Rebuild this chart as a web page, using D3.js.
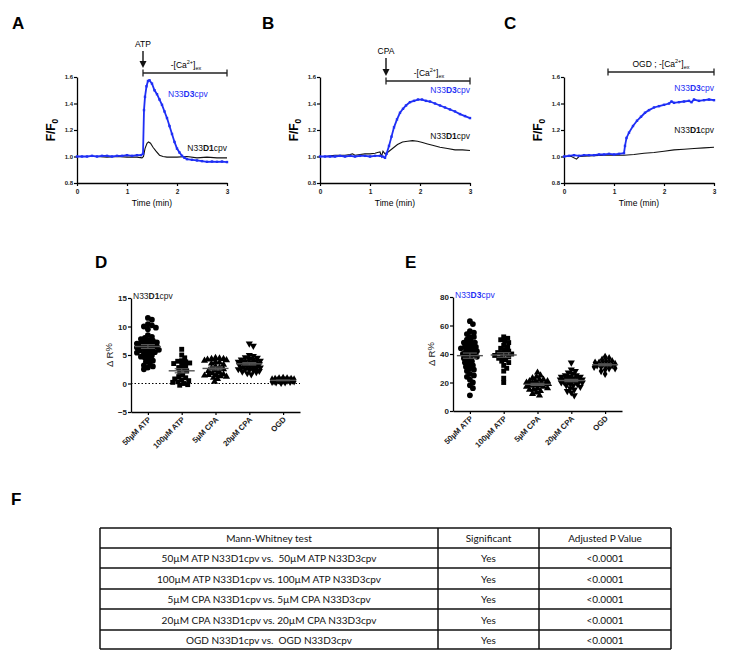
<!DOCTYPE html>
<html><head><meta charset="utf-8">
<script src="https://cdn.jsdelivr.net/npm/d3@7"></script>
<style>body{margin:0;background:#fff} svg{display:block;font-family:"Liberation Sans",Arial,sans-serif}</style>
</head><body>
<svg id="fig" width="750" height="650"></svg>
<script>
// ---------------- DATA ----------------
const timeTicks = [0, 1, 2, 3];
const ratioTicks = [0.8, 1.0, 1.2, 1.4, 1.6];

// Panel A (ATP)  [time (min), F/F0]
const atpD3 = [[0,1.0],[0.1,1.0],[0.2,1.0],[0.3,1.005],[0.4,1.0],[0.5,1.005],[0.6,1.005],[0.7,1.0],[0.8,1.005],[0.9,1.005],[1.0,1.01],[1.1,1.005],[1.2,1.01],[1.28,1.01],[1.32,1.02],[1.34,1.35],[1.36,1.45],[1.39,1.53],[1.42,1.57],[1.45,1.575],[1.5,1.55],[1.55,1.5],[1.6,1.47],[1.65,1.43],[1.7,1.39],[1.75,1.34],[1.8,1.29],[1.85,1.23],[1.9,1.17],[1.95,1.11],[2.0,1.06],[2.05,1.03],[2.1,1.005],[2.15,0.99],[2.2,0.98],[2.3,0.975],[2.4,0.97],[2.5,0.965],[2.6,0.96],[2.7,0.962],[2.8,0.96],[2.9,0.962],[3.0,0.958]];
const atpD1 = [[0,1.0],[0.2,1.0],[0.4,1.0],[0.6,0.995],[0.8,1.0],[1.0,0.995],[1.2,0.995],[1.3,0.99],[1.33,1.0],[1.36,1.06],[1.4,1.1],[1.43,1.11],[1.47,1.1],[1.52,1.07],[1.58,1.04],[1.65,1.01],[1.72,1.0],[1.8,0.995],[2.0,0.995],[2.2,1.0],[2.4,0.99],[2.6,0.995],[2.8,0.99],[3.0,0.99]];

// Panel B (CPA)
const cpaD3 = [[0,1.0],[0.1,1.0],[0.2,1.0],[0.3,1.0],[0.4,1.005],[0.5,1.0],[0.6,1.005],[0.7,1.0],[0.8,1.005],[0.9,1.005],[1.0,1.0],[1.1,1.005],[1.2,1.005],[1.25,1.0],[1.3,0.99],[1.33,1.02],[1.38,1.08],[1.43,1.15],[1.48,1.22],[1.54,1.28],[1.6,1.33],[1.66,1.36],[1.72,1.385],[1.8,1.41],[1.88,1.42],[1.96,1.43],[2.04,1.43],[2.12,1.42],[2.2,1.415],[2.3,1.4],[2.4,1.385],[2.5,1.37],[2.6,1.355],[2.7,1.34],[2.8,1.32],[2.9,1.305],[3.0,1.29]];
const cpaD1 = [[0,1.0],[0.1,1.0],[0.2,1.005],[0.3,1.01],[0.4,1.01],[0.5,1.01],[0.6,1.015],[0.65,1.02],[0.7,1.01],[0.8,1.015],[0.9,1.02],[1.0,1.02],[1.1,1.025],[1.15,1.03],[1.2,1.035],[1.23,1.0],[1.26,1.04],[1.3,1.02],[1.35,1.03],[1.45,1.06],[1.55,1.09],[1.65,1.11],[1.75,1.115],[1.85,1.12],[1.95,1.115],[2.05,1.105],[2.15,1.095],[2.25,1.085],[2.4,1.07],[2.55,1.06],[2.7,1.05],[2.85,1.05],[3.0,1.045]];

// Panel C (OGD)
const ogdD3 = [[0,1.0],[0.1,1.005],[0.2,1.01],[0.3,1.005],[0.4,1.01],[0.5,1.01],[0.6,1.01],[0.7,1.015],[0.8,1.015],[0.9,1.02],[1.0,1.015],[1.1,1.02],[1.2,1.025],[1.22,1.08],[1.25,1.14],[1.3,1.18],[1.38,1.23],[1.46,1.27],[1.54,1.3],[1.62,1.33],[1.7,1.35],[1.8,1.37],[1.9,1.38],[2.0,1.39],[2.1,1.4],[2.15,1.415],[2.2,1.405],[2.3,1.41],[2.4,1.415],[2.5,1.42],[2.55,1.41],[2.6,1.43],[2.7,1.42],[2.8,1.425],[2.9,1.43],[3.0,1.425]];
const ogdD1 = [[0,1.0],[0.15,1.0],[0.25,0.98],[0.3,1.0],[0.5,1.005],[0.8,1.01],[1.0,1.01],[1.2,1.01],[1.4,1.015],[1.6,1.025],[1.8,1.03],[2.0,1.04],[2.2,1.05],[2.4,1.055],[2.6,1.06],[2.8,1.065],[3.0,1.07]];

// Panels D/E categories
const conditions = ["50\u00b5M ATP", "100\u00b5M ATP", "5\u00b5M CPA", "20\u00b5M CPA", "OGD"];
const dTicks = [-5, 0, 5, 10, 15];
const eTicks = [0, 20, 40, 60, 80];

// Panel D: N33D1cpv  ΔR%
const d1Atp50 = [11.5,11.2,10.4,10.2,10.0,9.8,9.5,8.5,8.2,8.0,7.8,7.6,7.5,7.3,7.2,7.0,6.9,6.8,6.6,6.5,6.4,6.3,6.2,6.0,5.9,5.8,5.6,5.5,5.4,5.2,5.0,4.9,4.7,4.5,4.3,4.0,3.8,3.5,3.2,3.0,2.8,2.5,6.1,7.1,5.7];
const d1Atp100 = [6.0,5.0,4.5,4.0,3.8,3.6,3.5,3.3,3.0,2.8,2.5,2.2,2.0,1.5,1.2,1.0,0.8,0.5,0.3,0.2,0.0,-0.2,-0.3,0.6,3.9];
const d1Cpa5 = [4.5,4.4,4.3,4.2,4.1,4.0,3.8,3.5,3.3,3.0,2.8,2.7,2.5,2.3,2.2,2.0,1.8,1.6,1.5,1.4,1.3,1.2,1.0,0.8,0.3,3.7,4.3,1.5];
const d1Cpa20 = [7.0,6.6,5.0,4.8,4.6,4.5,4.3,4.2,4.0,3.9,3.8,3.7,3.6,3.5,3.4,3.3,3.2,3.1,3.0,2.9,2.8,2.7,2.6,2.5,2.4,2.3,2.2,2.1,2.0,1.8,1.6,3.5,3.0,2.5,4.1,3.8];
const d1Ogd = [1.0,0.9,0.9,0.8,0.8,0.7,0.7,0.6,0.6,0.6,0.5,0.5,0.5,0.4,0.4,0.3,0.3,0.2,0.2,0.1,0.6,0.5];

// Panel E: N33D3cpv  ΔR%
const d3Atp50 = [63,61,56,55,54,52,50,49,48,47,46,45,45,44,43,42,42,41,40,40,39,38,37,36,35,34,33,32,31,30,29,28,26,25,24,22,20,18,16,11,44,48,38,52];
const d3Atp100 = [52,51,50,49,48,46,44,43,42,41,40,40,39,38,38,37,36,35,34,32,30,28,23,20,45,41];
const d3Cpa5 = [27,25,24,23,22,22,21,21,20,20,19,19,18,18,17,17,16,16,15,15,14,13,12,11,20,19,18,21];
const d3Cpa20 = [34,29,28,27,26,25,25,24,24,23,23,22,22,22,21,21,21,20,20,20,19,19,18,18,17,16,15,14,13,11,23,22,24,21];
const d3Ogd = [38,37,36,35,35,34,34,33,33,33,32,32,32,31,31,30,30,29,28,26];

// Panel F table
const tableHeader = ["Mann-Whitney test", "Significant", "Adjusted P Value"];
const comparisons = ["50\u00b5M ATP N33D1cpv vs.  50\u00b5M ATP N33D3cpv", "100\u00b5M ATP N33D1cpv vs. 100\u00b5M ATP N33D3cpv", "5\u00b5M CPA N33D1cpv vs. 5\u00b5M CPA N33D3cpv", "20\u00b5M CPA N33D1cpv vs. 20\u00b5M CPA N33D3cpv", "OGD N33D1cpv vs.  OGD N33D3cpv"];
const significant = ["Yes", "Yes", "Yes", "Yes", "Yes"];
const pValues = ["<0.0001", "<0.0001", "<0.0001", "<0.0001", "<0.0001"];

// ---------------- DRAW ----------------
const svg = d3.select("#fig");
const BLUE = "#1f2ff5";

function panelLabel(t, x, y) {
  svg.append("text").attr("x", x).attr("y", y).attr("font-size", 17).attr("font-weight", "bold").text(t);
}

function styleAxis(g, fs) {
  g.select(".domain").attr("stroke", "#000").attr("stroke-width", 1.3);
  g.selectAll(".tick line").attr("stroke", "#000").attr("stroke-width", 1.2);
  g.selectAll(".tick text").attr("font-size", fs).attr("font-weight", "bold").attr("font-family", "Liberation Sans, Arial, sans-serif").attr("fill", "#222");
}

function cellLabel(g, x, y, bold, color, anchor) {
  const t = g.append("text").attr("x", x).attr("y", y).attr("font-size", 8.5).attr("fill", color).attr("text-anchor", anchor || "start");
  t.append("tspan").text("N33");
  t.append("tspan").attr("font-weight", "bold").text(bold);
  t.append("tspan").text("cpv");
  return t;
}

function caText(g, x, y, prefix) {
  const t = g.append("text").attr("x", x).attr("y", y).attr("font-size", 8.5).attr("text-anchor", "middle");
  t.append("tspan").text(prefix + "-[Ca");
  t.append("tspan").attr("font-size", 5.5).attr("dy", -4).text("2+");
  t.append("tspan").attr("dy", 4).text("]");
  t.append("tspan").attr("font-size", 5.5).attr("dy", 2).text("ex");
}

function tracePanel(cfg) {
  const g = svg.append("g");
  const x = d3.scaleLinear().domain([0, 3]).range([cfg.x0, cfg.x0 + 150]);
  const y = d3.scaleLinear().domain([0.8, 1.6]).range([183, 77]);
  const gx = g.append("g").attr("transform", "translate(0,183)")
    .call(d3.axisBottom(x).tickValues(timeTicks).tickSize(3).tickSizeOuter(0).tickFormat(d3.format("d")));
  styleAxis(gx, 6.5);
  const gy = g.append("g").attr("transform", `translate(${cfg.x0},0)`)
    .call(d3.axisLeft(y).tickValues(ratioTicks).tickSize(3).tickSizeOuter(0).tickFormat(d3.format(".1f")));
  styleAxis(gy, 6);
  gy.selectAll(".tick text").attr("x", -4);
  g.append("text").attr("x", cfg.x0 + 75).attr("y", 206).attr("text-anchor", "middle").attr("font-size", 8.5).text("Time (min)");
  const yl = g.append("text").attr("transform", `translate(${cfg.x0 - 22},130) rotate(-90)`).attr("text-anchor", "middle").attr("font-size", 12).attr("font-weight", "bold");
  yl.append("tspan").text("F/F");
  yl.append("tspan").attr("font-size", 8.5).attr("dy", 3).text("0");

  const line = d3.line().x(d => x(d[0])).y(d => y(d[1]));
  g.append("path").datum(cfg.d1).attr("d", line).attr("fill", "none").attr("stroke", "#111").attr("stroke-width", 1.1);
  g.append("path").datum(cfg.d3).attr("d", line).attr("fill", "none").attr("stroke", BLUE).attr("stroke-width", 1.8);
  g.selectAll("rect.mk").data(cfg.d3).join("rect").attr("class", "mk")
    .attr("x", d => x(d[0]) - 1.2).attr("y", d => y(d[1]) - 1.2).attr("width", 2.4).attr("height", 2.4).attr("fill", BLUE);

  if (cfg.d3LabelX != null) cellLabel(g, cfg.d3LabelX, cfg.d3LabelY, "D3", BLUE, "start");
  else cellLabel(g, x(3), cfg.d3LabelY, "D3", BLUE, "end");
  cellLabel(g, x(3), cfg.d1LabelY, "D1", "#111", "end");

  // stimulus bar
  const bx0 = x(cfg.barStart), bx1 = x(3);
  g.append("line").attr("x1", bx0).attr("x2", bx1).attr("y1", cfg.barY).attr("y2", cfg.barY).attr("stroke", "#222").attr("stroke-width", 1.3);
  [bx0, bx1].forEach(v => g.append("line").attr("x1", v).attr("x2", v).attr("y1", cfg.barY - 3.5).attr("y2", cfg.barY + 3.5).attr("stroke", "#222").attr("stroke-width", 1.3));
  caText(g, (bx0 + bx1) / 2 + (cfg.arrow ? 1 : 0), cfg.barY - 5, cfg.barPrefix);
  if (cfg.arrow) {
    g.append("text").attr("x", bx0).attr("y", cfg.arrowTop - 4).attr("text-anchor", "middle").attr("font-size", 8.5).text(cfg.arrow);
    g.append("line").attr("x1", bx0).attr("x2", bx0).attr("y1", cfg.arrowTop).attr("y2", cfg.barY - 10).attr("stroke", "#111").attr("stroke-width", 1.4);
    g.append("path").attr("d", `M${bx0 - 3.5},${cfg.barY - 12} L${bx0 + 3.5},${cfg.barY - 12} L${bx0},${cfg.barY - 5} Z`).attr("fill", "#111");
  }
}

panelLabel("A", 12, 29);
tracePanel({x0: 77, d3: atpD3, d1: atpD1, d3LabelX: 168, d3LabelY: 97, d1LabelY: 151, barStart: 1.32, barY: 73, arrow: "ATP", arrowTop: 51, barPrefix: ""});
panelLabel("B", 262, 29);
tracePanel({x0: 320, d3: cpaD3, d1: cpaD1, d3LabelY: 93, d1LabelY: 139, barStart: 1.32, barY: 81, arrow: "CPA", arrowTop: 58, barPrefix: ""});
panelLabel("C", 504, 29);
tracePanel({x0: 564, d3: ogdD3, d1: ogdD1, d3LabelY: 91, d1LabelY: 133, barStart: 0.88, barY: 72, arrow: null, barPrefix: "OGD ; "});

// ---------- scatter panels ----------
const shapes = [d3.symbolCircle, d3.symbolSquare, d3.symbolTriangle, d3.symbolTriangle, d3.symbolDiamond];
const shapeSizes = [26, 24, 22, 22, 20];
const shapeRot = [0, 0, 0, 180, 0];

// compact beeswarm: offsets limited to +-maxOff; when no free slot, pick the least crowded one
function swarm(vals, yScale, minDist, maxOff) {
  const pts = vals.map(v => ({v: v, py: yScale(v)})).sort((a, b) => a.py - b.py);
  const placed = [];
  const cands = [0];
  for (let k = 1; k <= maxOff; k++) { cands.push(k); cands.push(-k); }
  pts.forEach(p => {
    let best = 0, bestD = -1, done = false;
    for (const off of cands) {
      let dmin = Infinity;
      placed.forEach(q => { const d = Math.hypot(q.off - off, q.py - p.py); if (d < dmin) dmin = d; });
      if (dmin >= minDist) { p.off = off; done = true; break; }
      if (dmin > bestD) { bestD = dmin; best = off; }
    }
    if (!done) p.off = best;
    placed.push(p);
  });
  return placed;
}

function scatterPanel(cfg) {
  const g = svg.append("g");
  const x = d3.scalePoint().domain(conditions).range([cfg.x0, cfg.x0 + 169]).padding(0.5);
  const y = d3.scaleLinear().domain(cfg.domain).range([cfg.yBottom, cfg.yBottom - 114]);
  const gx = g.append("g").attr("transform", `translate(0,${cfg.yBottom})`)
    .call(d3.axisBottom(x).tickSize(3).tickSizeOuter(0));
  styleAxis(gx, 7.8);
  gx.selectAll(".tick text").attr("text-anchor", "end").attr("x", 0).attr("y", 0).attr("dy", 0)
    .attr("transform", "translate(3,8) rotate(-45)");
  const gy = g.append("g").attr("transform", `translate(${cfg.x0},0)`)
    .call(d3.axisLeft(y).tickValues(cfg.ticks).tickSize(3).tickSizeOuter(0));
  styleAxis(gy, 8);
  gy.selectAll(".tick text").attr("x", -4);
  const yl = g.append("text").attr("transform", `translate(${cfg.x0 - 18},${cfg.yBottom - 57}) rotate(-90)`).attr("text-anchor", "middle").attr("font-size", 9.5).attr("fill", "#222");
  yl.append("tspan").text("\u0394 R");
  yl.append("tspan").attr("dy", -1).text("%");
  cellLabel(g, cfg.x0 + 2, cfg.yBottom - 113, cfg.bold, cfg.color, "start");

  if (cfg.zeroLine) {
    g.append("line").attr("x1", cfg.x0).attr("x2", cfg.x0 + 169).attr("y1", y(0)).attr("y2", y(0))
      .attr("stroke", "#000").attr("stroke-width", 1.2).attr("stroke-dasharray", "1.5,2");
  }
  cfg.groups.forEach((vals, i) => {
    const cx = x(conditions[i]);
    const pts = swarm(vals, y, 3.8, 11);
    const sym = d3.symbol().type(shapes[i]).size(shapeSizes[i]);
    g.selectAll(null).data(pts).join("path")
      .attr("d", sym)
      .attr("transform", d => `translate(${cx + d.off},${d.py}) rotate(${shapeRot[i]})`)
      .attr("fill", "#000");
    const m = d3.mean(vals), sem = d3.deviation(vals) / Math.sqrt(vals.length);
    g.append("line").attr("x1", cx - 13).attr("x2", cx + 13).attr("y1", y(m)).attr("y2", y(m)).attr("stroke", "#555").attr("stroke-width", 1.4);
    g.append("line").attr("x1", cx).attr("x2", cx).attr("y1", y(m - sem)).attr("y2", y(m + sem)).attr("stroke", "#555").attr("stroke-width", 1.2);
    [m - sem, m + sem].forEach(v => g.append("line").attr("x1", cx - 7).attr("x2", cx + 7).attr("y1", y(v)).attr("y2", y(v)).attr("stroke", "#555").attr("stroke-width", 1.2));
  });
}

panelLabel("D", 95, 268);
scatterPanel({x0: 131, yBottom: 412, domain: [-5, 15], ticks: dTicks, bold: "D1", color: "#222", zeroLine: true,
  groups: [d1Atp50, d1Atp100, d1Cpa5, d1Cpa20, d1Ogd]});
panelLabel("E", 405, 268);
scatterPanel({x0: 453, yBottom: 411, domain: [0, 80], ticks: eTicks, bold: "D3", color: BLUE, zeroLine: false,
  groups: [d3Atp50, d3Atp100, d3Cpa5, d3Cpa20, d3Ogd]});

// ---------- table ----------
panelLabel("F", 11, 505);
const colX = [100, 438, 539, 671];
const rowY = [528, 548, 568, 589, 609, 630, 649];
const tg = svg.append("g").attr("font-family", "Lato, 'Open Sans', sans-serif").attr("font-size", 10).attr("fill", "#111");
rowY.forEach(yv => tg.append("line").attr("x1", colX[0]).attr("x2", colX[3]).attr("y1", yv).attr("y2", yv).attr("stroke", "#111").attr("stroke-width", 1.3));
colX.forEach(xv => tg.append("line").attr("x1", xv).attr("x2", xv).attr("y1", rowY[0]).attr("y2", rowY[6]).attr("stroke", "#111").attr("stroke-width", 1.5));
const rows = [tableHeader].concat(comparisons.map((c, i) => [c, significant[i], pValues[i]]));
rows.forEach((r, ri) => {
  r.forEach((cell, ci) => {
    tg.append("text").attr("x", (colX[ci] + colX[ci + 1]) / 2).attr("y", (rowY[ri] + rowY[ri + 1]) / 2 + 4)
      .attr("text-anchor", "middle").style("white-space", "pre").text(cell);
  });
});
</script>
</body></html>
